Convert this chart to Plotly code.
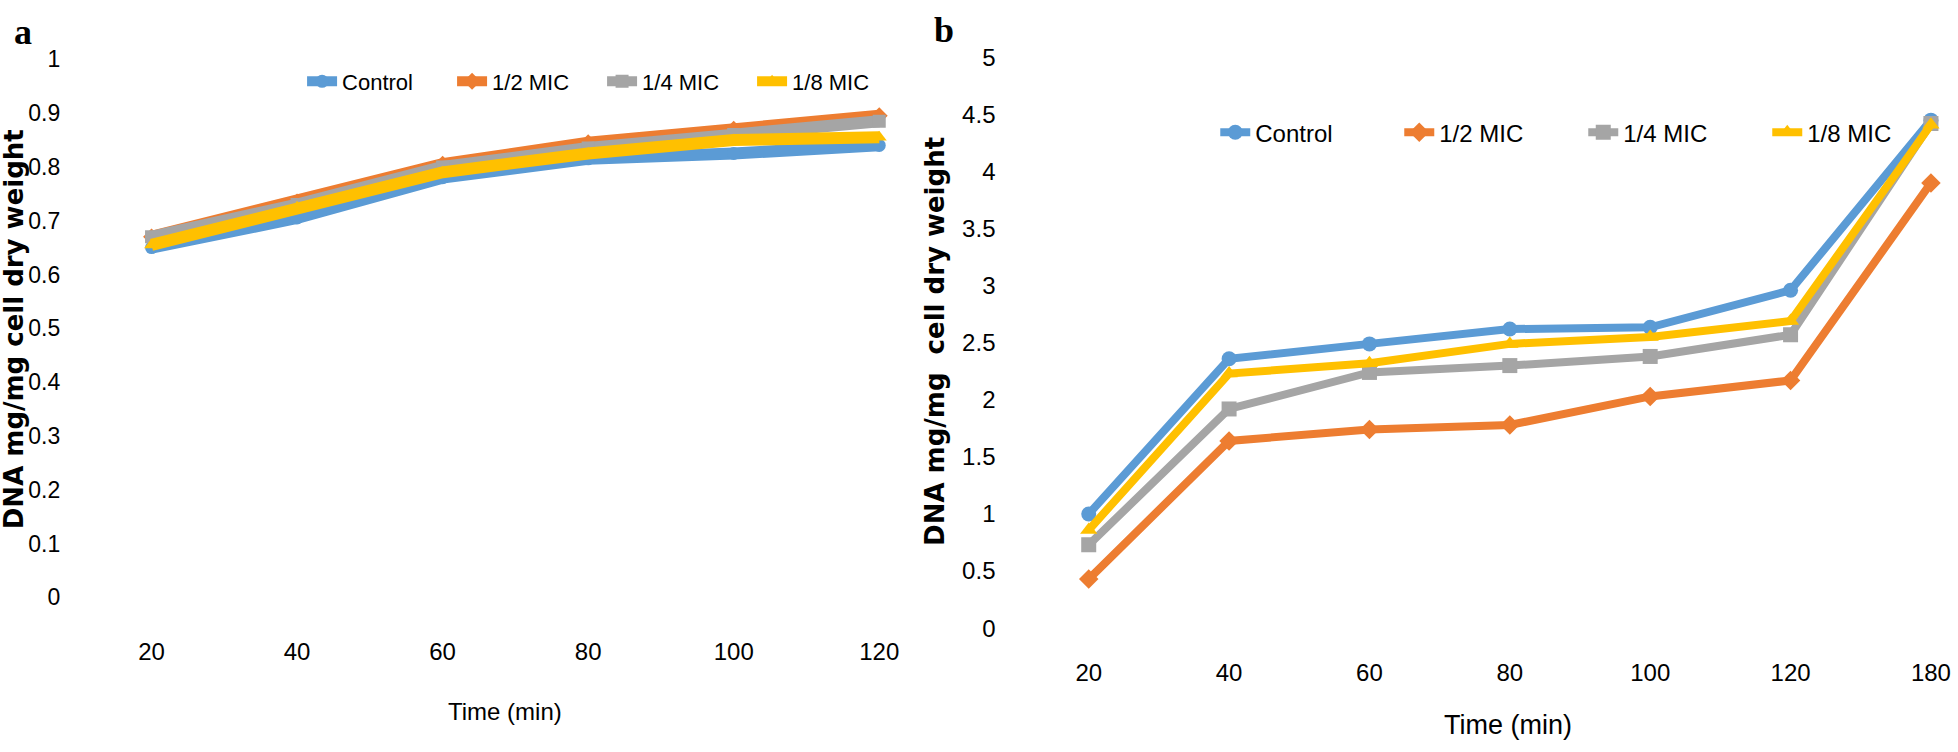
import plotly.graph_objects as go

# ---------------- data ----------------
time_a = ["20", "40", "60", "80", "100", "120"]
time_b = ["20", "40", "60", "80", "100", "120", "180"]
series_names = ["Control", "1/2 MIC", "1/4 MIC", "1/8 MIC"]

a_control = [0.65, 0.705, 0.78, 0.815, 0.825, 0.84]
a_half = [0.67, 0.735, 0.805, 0.845, 0.87, 0.895]
a_quarter = [0.67, 0.73, 0.80, 0.835, 0.86, 0.885]
a_eighth = [0.655, 0.725, 0.79, 0.825, 0.85, 0.855]

b_control = [1.0, 2.36, 2.49, 2.62, 2.635, 2.96, 4.45]
b_half = [0.43, 1.64, 1.74, 1.78, 2.03, 2.17, 3.90]
b_quarter = [0.73, 1.92, 2.24, 2.30, 2.38, 2.57, 4.42]
b_eighth = [0.86, 2.23, 2.32, 2.49, 2.55, 2.69, 4.41]

y_tickvals_a = [0, 0.1, 0.2, 0.3, 0.4, 0.5, 0.6, 0.7, 0.8, 0.9, 1]
y_ticktext_a = ["0", "0.1", "0.2", "0.3", "0.4", "0.5", "0.6", "0.7", "0.8", "0.9", "1"]
y_tickvals_b = [0, 0.5, 1, 1.5, 2, 2.5, 3, 3.5, 4, 4.5, 5]
y_ticktext_b = ["0", "0.5", "1", "1.5", "2", "2.5", "3", "3.5", "4", "4.5", "5"]

# ---------------- style ----------------
colors = ["#5B9BD5", "#ED7D31", "#A5A5A5", "#FFC000"]
symbols = ["circle", "diamond", "square", "triangle-up"]
W, H = 1958, 752
REG = "Liberation Sans, Arial, sans-serif"
BOLD = "DejaVu Sans, Verdana, sans-serif"

fig = go.Figure()

a_series = [a_control, a_half, a_quarter, a_eighth]
b_series = [b_control, b_half, b_quarter, b_eighth]

for name, vals, c, s in zip(series_names, a_series, colors, symbols):
    fig.add_trace(go.Scatter(
        x=time_a, y=vals, name=name, mode="lines+markers",
        line=dict(color=c, width=12),
        marker=dict(color=c, symbol=s, size=13),
        xaxis="x", yaxis="y", legend="legend",
    ))

for name, vals, c, s in zip(series_names, b_series, colors, symbols):
    fig.add_trace(go.Scatter(
        x=time_b, y=vals, name=name, mode="lines+markers",
        line=dict(color=c, width=8),
        marker=dict(color=c, symbol=s, size=15),
        xaxis="x2", yaxis="y2", legend="legend2",
    ))

axis_common = dict(showline=False, showgrid=False, zeroline=False, ticks="")

fig.update_layout(
    width=W, height=H,
    margin=dict(l=0, r=0, t=0, b=0),
    paper_bgcolor="white", plot_bgcolor="white",
    showlegend=True,
    xaxis=dict(axis_common, type="category", categoryarray=time_a,
               range=[-0.6, 5.3], domain=[0.0329, 0.4728], anchor="y",
               tickfont=dict(family=REG, size=24, color="#000"),
               ticklabelstandoff=38),
    yaxis=dict(axis_common, range=[0, 1], domain=[0.1955, 0.9375], anchor="x",
               tickvals=y_tickvals_a, ticktext=y_ticktext_a,
               tickfont=dict(family=REG, size=23, color="#000"),
               ticklabelstandoff=3),
    xaxis2=dict(axis_common, type="category", categoryarray=time_b,
                range=[-0.6, 6.1], domain=[0.5146, 0.9964], anchor="y2",
                tickfont=dict(family=REG, size=24, color="#000"),
                ticklabelstandoff=28),
    yaxis2=dict(axis_common, range=[0, 5], domain=[0.1529, 0.9402], anchor="x2",
                tickvals=y_tickvals_b, ticktext=y_ticktext_b,
                tickfont=dict(family=REG, size=24, color="#000"),
                ticklabelstandoff=8),
    legend=dict(orientation="h", x=303 / W, xanchor="left",
                y=1 - 70 / H, yanchor="middle",
                font=dict(family=REG, size=22, color="#000"),
                entrywidth=105, entrywidthmode="pixels",
                bgcolor="rgba(0,0,0,0)", borderwidth=0),
    legend2=dict(orientation="h", x=1219 / W, xanchor="left",
                 y=1 - 123 / H, yanchor="middle",
                 font=dict(family=REG, size=24, color="#000"),
                 entrywidth=139, entrywidthmode="pixels",
                 bgcolor="rgba(0,0,0,0)", borderwidth=0),
)

annotations = [
    dict(text="<b>a</b>", x=23 / W, y=1 - 19 / H, font=dict(family="Liberation Serif, serif", size=36, color="#000")),
    dict(text="<b>b</b>", x=947 / W, y=1 - 17 / H, font=dict(family="Liberation Serif, serif", size=36, color="#000")),
    dict(text="<b>DNA mg/mg cell dry weight</b>", x=14 / W, y=1 - 327 / H, textangle=-90,
         font=dict(family=BOLD, size=26, color="#000")),
    dict(text="<b>DNA mg/mg  cell dry weight</b>", x=938 / W, y=1 - 340 / H, textangle=-90,
         font=dict(family=BOLD, size=26, color="#000")),
    dict(text="Time (min)", x=507 / W, y=1 - 723 / H,
         font=dict(family=REG, size=24, color="#000")),
    dict(text="Time (min)", x=1513 / W, y=1 - 737 / H,
         font=dict(family=REG, size=27, color="#000")),
]
for a in annotations:
    a.update(xref="paper", yref="paper", showarrow=False, xanchor="center", yanchor="middle")
fig.update_layout(annotations=annotations)

fig.write_html("out.html", config={"displayModeBar": False},
               post_script="document.body.style.margin='0';")
